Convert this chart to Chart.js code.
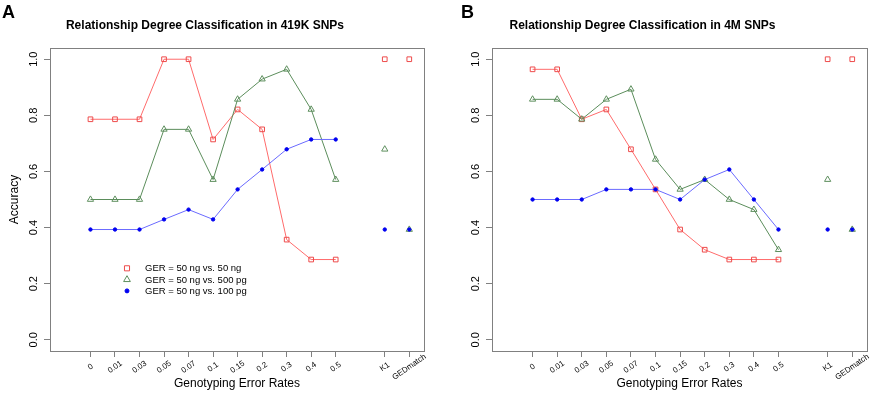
<!DOCTYPE html>
<html>
<head>
<meta charset="utf-8">
<script src="https://cdn.jsdelivr.net/npm/chart.js@4.4.1/dist/chart.umd.min.js"></script>
<style>
  html, body { margin: 0; padding: 0; background: #fff; }
  #wrap { position: relative; width: 872px; height: 393px; }
  .panel { position: absolute; top: 0; width: 436px; height: 393px; }
  #panelA { left: 0; }
  #panelB { left: 436px; }
</style>
</head>
<body>
<div id="wrap">
  <div class="panel" id="panelA"><canvas id="chartA"></canvas></div>
  <div class="panel" id="panelB"><canvas id="chartB"></canvas></div>
</div>
<script>
// x categories: error rates, then the two tools after a one-slot gap
const rateLabels = ['0', '0.01', '0.03', '0.05', '0.07', '0.1', '0.15', '0.2', '0.3', '0.4', '0.5'];
const toolLabels = ['K1', 'GEDmatch'];
const seriesNames = ['GER = 50 ng vs. 50 ng', 'GER = 50 ng vs. 500 pg', 'GER = 50 ng vs. 100 pg'];

// Panel A: 419K SNPs
const a50ng = [0.786, 0.786, 0.786, 1.0, 1.0, 0.714, 0.821, 0.75, 0.357, 0.286, 0.286];
const a50ngTools = [1.0, 1.0];
const a500pg = [0.5, 0.5, 0.5, 0.75, 0.75, 0.571, 0.857, 0.929, 0.964, 0.821, 0.571];
const a500pgTools = [0.679, 0.393];
const a100pg = [0.393, 0.393, 0.393, 0.429, 0.464, 0.429, 0.536, 0.607, 0.679, 0.714, 0.714];
const a100pgTools = [0.393, 0.393];

// Panel B: 4M SNPs
const b50ng = [0.964, 0.964, 0.786, 0.821, 0.679, 0.536, 0.393, 0.321, 0.286, 0.286, 0.286];
const b50ngTools = [1.0, 1.0];
const b500pg = [0.857, 0.857, 0.786, 0.857, 0.893, 0.643, 0.536, 0.571, 0.5, 0.464, 0.321];
const b500pgTools = [0.571, 0.393];
const b100pg = [0.5, 0.5, 0.5, 0.536, 0.536, 0.536, 0.5, 0.571, 0.607, 0.5, 0.393];
const b100pgTools = [0.393, 0.393];

const yTicks = [0, 0.2, 0.4, 0.6, 0.8, 1.0];
const FONT = '"Liberation Sans", Arial, Helvetica, sans-serif';

// category label -> x position (tools sit after an empty slot)
const toolStart = rateLabels.length + 1;
const xLabelAt = {};
rateLabels.forEach((l, i) => { xLabelAt[i] = l; });
toolLabels.forEach((l, j) => { xLabelAt[toolStart + j] = l; });

const styles = [
    { line: '#ff6b6b', point: '#ee4b4b', pointStyle: 'rect', radius: 3.3, fill: 'rgba(0,0,0,0)', order: 2 },
    { line: '#5b8d5b', point: '#5e8f5e', pointStyle: 'triangle', radius: 3.6, fill: 'rgba(0,0,0,0)', order: 1 },
    { line: '#6a6aff', point: '#0000f0', pointStyle: 'circle', radius: 1.7, fill: '#0000f0', order: 0 }
];

function makeDatasets(series) {
    const out = [];
    series.forEach((s, k) => {
        const st = styles[k];
        const common = {
            label: seriesNames[k],
            borderColor: st.line,
            borderWidth: 1,
            pointStyle: st.pointStyle,
            pointRadius: st.radius,
            pointBorderColor: st.point,
            pointBackgroundColor: st.fill,
            pointBorderWidth: 1,
            order: st.order
        };
        out.push(Object.assign({}, common, {
            data: s.rates.map((v, i) => ({ x: i, y: v })),
            showLine: true
        }));
        out.push(Object.assign({}, common, {
            data: s.tools.map((v, j) => ({ x: toolStart + j, y: v })),
            showLine: false
        }));
    });
    return out;
}

// draws the plot box, panel letter, title, rotated x labels and the legend
const panelDecor = {
    id: 'panelDecor',
    afterDraw(chart, args, opts) {
        const { ctx, chartArea: a } = chart;
        ctx.save();
        ctx.strokeStyle = '#808080';
        ctx.lineWidth = 1;
        ctx.strokeRect(Math.round(a.left) + 0.5, Math.round(a.top) + 0.5,
            Math.round(a.right - a.left), Math.round(a.bottom - a.top));

        ctx.fillStyle = '#000';
        ctx.textAlign = 'left';
        ctx.textBaseline = 'alphabetic';
        ctx.font = 'bold 18px ' + FONT;
        ctx.fillText(opts.letter, opts.letterX, 18);

        ctx.textAlign = 'center';
        ctx.font = 'bold 12px ' + FONT;
        ctx.fillText(opts.title, opts.titleX, 29);

        // x tick labels, rotated and centred on their ticks
        const xs = chart.scales.x;
        ctx.font = '8px ' + FONT;
        ctx.textBaseline = 'middle';
        xs.ticks.forEach(t => {
            const px = xs.getPixelForValue(t.value);
            ctx.save();
            ctx.translate(px, 367);
            ctx.rotate(-35 * Math.PI / 180);
            ctx.fillText(xLabelAt[t.value], 0, 0);
            ctx.restore();
        });

        if (opts.legend) {
            const lx = opts.legend.x, ly = opts.legend.y, dy = 11.3;
            ctx.font = '9.5px ' + FONT;
            ctx.textAlign = 'left';
            seriesNames.forEach((name, k) => {
                const st = styles[k];
                const y = ly + k * dy;
                ctx.lineWidth = 1;
                ctx.strokeStyle = st.point;
                ctx.fillStyle = st.fill;
                Chart.helpers.drawPoint(ctx, {
                    pointStyle: st.pointStyle, radius: st.radius + 0.3, rotation: 0, borderWidth: 1
                }, lx, y);
                ctx.fillStyle = '#000';
                ctx.fillText(name, lx + 18, y + 0.5);
            });
        }
        ctx.restore();
    }
};

function makeChart(canvasId, series, cfg) {
    return new Chart(document.getElementById(canvasId), {
        type: 'scatter',
        data: { datasets: makeDatasets(series) },
        plugins: [panelDecor],
        options: {
            responsive: true,
            maintainAspectRatio: false,
            animation: false,
            layout: { padding: { top: 48, right: cfg.padRight, bottom: 0, left: 0 } },
            plugins: {
                legend: { display: false },
                tooltip: { enabled: false },
                panelDecor: cfg.decor
            },
            scales: {
                x: {
                    type: 'linear',
                    min: -1.65,
                    max: 13.6,
                    afterBuildTicks(scale) {
                        scale.ticks = Object.keys(xLabelAt).map(v => ({ value: Number(v) }));
                    },
                    afterFit(scale) { scale.height = 42; },
                    ticks: { display: false },
                    grid: { display: true, drawOnChartArea: false, drawTicks: true, tickLength: 6, color: '#808080' },
                    border: { display: false },
                    title: {
                        display: true,
                        text: 'Genotyping Error Rates',
                        color: '#000',
                        font: { family: FONT, size: 12 },
                        padding: { top: 0, bottom: 2 }
                    }
                },
                y: {
                    type: 'linear',
                    min: -0.04,
                    max: 1.04,
                    afterBuildTicks(scale) {
                        scale.ticks = yTicks.map(v => ({ value: v }));
                    },
                    afterFit(scale) { scale.width = cfg.yWidth; },
                    ticks: {
                        minRotation: 90,
                        maxRotation: 90,
                        crossAlign: 'center',
                        padding: 2,
                        color: '#000',
                        font: { family: FONT, size: 11 },
                        callback: v => v.toFixed(1)
                    },
                    grid: { display: true, drawOnChartArea: false, drawTicks: true, tickLength: 6, color: '#808080' },
                    border: { display: false },
                    title: {
                        display: cfg.yTitle,
                        text: 'Accuracy',
                        color: '#000',
                        font: { family: FONT, size: 12 },
                        padding: { top: 7, bottom: 0 }
                    }
                }
            }
        }
    });
}

makeChart('chartA', [
    { rates: a50ng, tools: a50ngTools },
    { rates: a500pg, tools: a500pgTools },
    { rates: a100pg, tools: a100pgTools }
], {
    padRight: 12,
    yWidth: 50,
    yTitle: true,
    decor: { letter: 'A', letterX: 2, title: 'Relationship Degree Classification in 419K SNPs', titleX: 205,
             legend: { x: 127, y: 268.3 } }
});

makeChart('chartB', [
    { rates: b50ng, tools: b50ngTools },
    { rates: b500pg, tools: b500pgTools },
    { rates: b100pg, tools: b100pgTools }
], {
    padRight: 4,
    yWidth: 56,
    yTitle: false,
    decor: { letter: 'B', letterX: 25, title: 'Relationship Degree Classification in 4M SNPs', titleX: 206.5,
             legend: null }
});
</script>
</body>
</html>
